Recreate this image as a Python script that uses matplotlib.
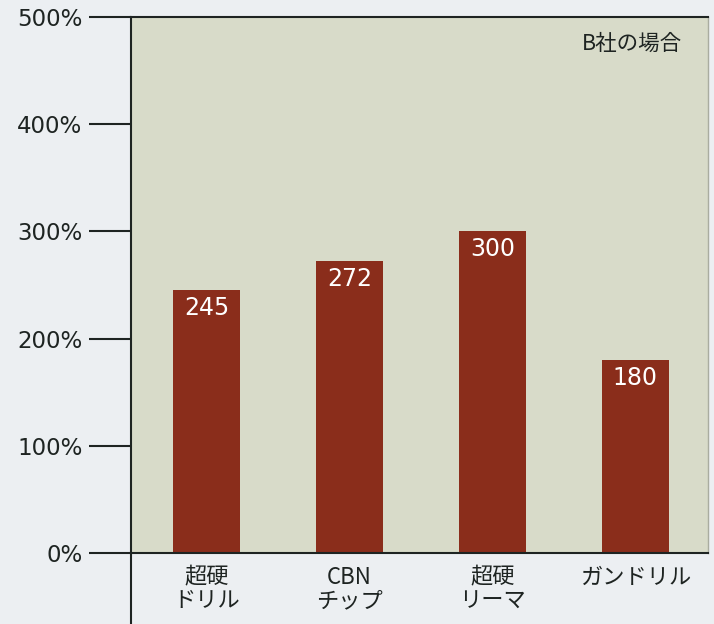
import matplotlib
matplotlib.use("Agg")
import matplotlib.pyplot as plt
from matplotlib.lines import Line2D

plt.rcParams['font.family'] = ['Noto Sans CJK JP', 'DejaVu Sans']

# data
categories = ["超硬\nドリル", "CBN\nチップ", "超硬\nリーマ", "ガンドリル"]
values = [245, 272, 300, 180]
yticks = [0, 100, 200, 300, 400, 500]
ytick_labels = ["0%", "100%", "200%", "300%", "400%", "500%"]
note = "B社の場合"

bar_color = "#8a2d1b"
panel_color = "#d8dbc9"
ink = "#1e2422"

fig = plt.figure(figsize=(7.14, 6.24), dpi=100, facecolor="#eceff2")
ax = fig.add_axes([131 / 714, 1 - 553 / 624, 577 / 714, 536 / 624])
ax.set_facecolor(panel_color)

x = list(range(len(categories)))
bars = ax.bar(x, values, width=0.47, color=bar_color, zorder=2)

for rect, v in zip(bars, values):
    ax.annotate(str(v), (rect.get_x() + rect.get_width() / 2, v),
                xytext=(0, -13), textcoords="offset points",
                ha="center", va="center", color="white",
                fontsize=17, family="DejaVu Sans")

ax.set_xlim(-0.53, 3.51)
ax.set_ylim(0, 500)
ax.set_yticks(yticks)
ax.set_yticklabels(ytick_labels, fontsize=16.5, color=ink, family="DejaVu Sans")
ax.tick_params(axis="y", direction="out", length=30, width=1.5,
               color=ink, pad=5)
ax.set_xticks([])

for side in ("left", "top", "bottom"):
    ax.spines[side].set_color(ink)
    ax.spines[side].set_linewidth(1.5)
ax.spines["right"].set_color("#a9aca0")
ax.spines["right"].set_linewidth(1)

# category labels under the bars
for xi, lab in zip(x, categories):
    ax.annotate(lab, (xi, 0), xytext=(0, -9), textcoords="offset points",
                ha="center", va="top", fontsize=16, color=ink,
                linespacing=1.05)

ax.text(0.955, 0.95, note, transform=ax.transAxes, ha="right", va="center",
        fontsize=15.5, color=ink)

# left axis line runs on below the panel
fig.add_artist(Line2D([131 / 714, 131 / 714], [0, 1 - 553 / 624],
                      transform=fig.transFigure, color=ink, lw=1.5))

fig.savefig("out.png", dpi=100, facecolor=fig.get_facecolor())
